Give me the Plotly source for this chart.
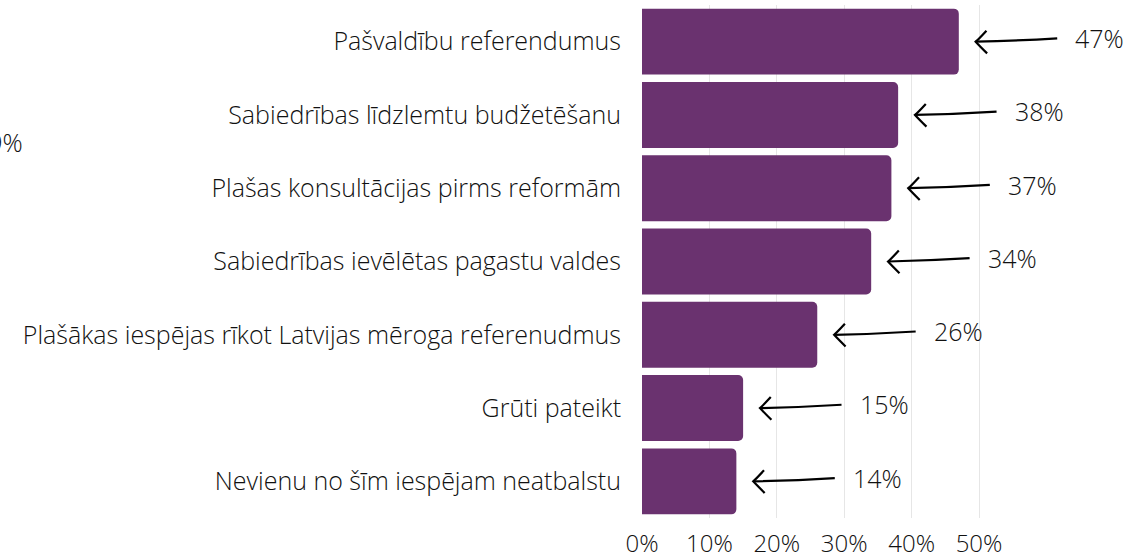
import plotly.graph_objects as go

categories = [
    "Pašvaldību referendumus",
    "Sabiedrības līdzlemtu budžetēšanu",
    "Plašas konsultācijas pirms reformām",
    "Sabiedrības ievēlētas pagastu valdes",
    "Plašākas iespējas rīkot Latvijas mēroga referenudmus",
    "Grūti pateikt",
    "Nevienu no šīm iespējam neatbalstu",
]
values = [47, 38, 37, 34, 26, 15, 14]
x_ticks = [0, 10, 20, 30, 40, 50]
x_tick_labels = ["0%", "10%", "20%", "30%", "40%", "50%"]

FONT = "Open Sans"
BAR_COLOR = "#6a326f"
TEXT_COLOR = "#111111"
idx = list(range(len(categories)))

fig = go.Figure()
fig.add_trace(go.Bar(
    x=values, y=idx, orientation="h",
    marker=dict(color=BAR_COLOR, cornerradius=5, line=dict(width=0)),
    hoverinfo="skip",
))

shapes = []
annotations = []
for i, v in zip(idx, values):
    tip = v + 2.5
    tail = v + 14.6
    yt = i
    yl = i - 0.045
    mid = (tip + tail) / 2
    shapes.append(dict(
        type="path", xref="x", yref="y",
        path=f"M {tail},{yl} Q {mid},{yt - 0.01} {tip},{yt}",
        line=dict(color="black", width=2.2),
    ))
    shapes.append(dict(
        type="path", xref="x", yref="y",
        path=f"M {tip + 1.6},{yt - 0.15} Q {tip + 0.4},{yt - 0.03} {tip},{yt} Q {tip + 0.5},{yt + 0.05} {tip + 1.7},{yt + 0.16}",
        line=dict(color="black", width=2.2),
    ))
    annotations.append(dict(
        x=v + 17.0, y=i - 0.05, xref="x", yref="y",
        text=f"{v}%", showarrow=False, xanchor="left", yanchor="middle",
        font=dict(family=FONT, size=25, color=TEXT_COLOR, weight=300),
    ))

annotations.append(dict(
    x=-1.27, y=1.37, xref="paper", yref="y",
    text="49%", showarrow=False, xanchor="right", yanchor="middle",
    font=dict(family=FONT, size=25, color=TEXT_COLOR, weight=300),
))

fig.update_layout(
    width=1128, height=558,
    margin=dict(l=642, r=0, t=5, b=40),
    plot_bgcolor="white", paper_bgcolor="white",
    showlegend=False, bargap=0.1,
    font=dict(family=FONT, size=22, color=TEXT_COLOR),
    shapes=shapes, annotations=annotations,
    xaxis=dict(
        range=[0, 72.1], tickvals=x_ticks, ticktext=x_tick_labels,
        showgrid=True, gridcolor="#e6e6e6", gridwidth=1,
        zeroline=False, showline=False, ticks="",
        ticklabelstandoff=9,
        tickfont=dict(family=FONT, size=24, color=TEXT_COLOR, weight=300),
    ),
    yaxis=dict(
        range=[6.5, -0.5], tickvals=idx, ticktext=categories,
        showgrid=False, zeroline=False, showline=False, ticks="",
        ticklabelstandoff=20,
        tickfont=dict(family=FONT, size=25, color=TEXT_COLOR, weight=300),
    ),
)

fig.write_html(
    "out.html",
    config={"displayModeBar": False},
    post_script="document.body.style.margin='0';document.body.style.padding='0';",
)
